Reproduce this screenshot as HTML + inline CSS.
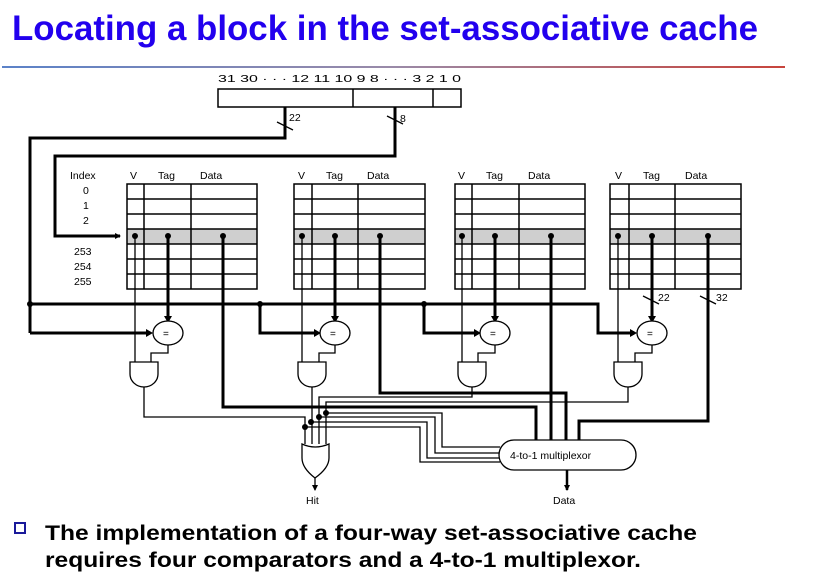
<!DOCTYPE html>
<html><head><meta charset="utf-8"><style>
body{margin:0;background:#fff;width:817px;height:578px;overflow:hidden;font-family:"Liberation Sans",sans-serif}
svg{font-family:"Liberation Sans",sans-serif}
</style></head><body>
<svg width="817" height="578" viewBox="0 0 817 578" xmlns="http://www.w3.org/2000/svg">
<defs>
<linearGradient id="g" x1="0" x2="1"><stop offset="0" stop-color="#5b82c8"/><stop offset="0.5" stop-color="#9a8aa8"/><stop offset="1" stop-color="#c8443c"/></linearGradient>
<marker id="a" markerWidth="6" markerHeight="6" refX="5" refY="3" orient="auto" markerUnits="userSpaceOnUse"><path d="M0,0 L6,3 L0,6z" fill="#000"/></marker>
</defs>
<text x="12" y="40" font-size="35" font-weight="bold" fill="#2200ee" textLength="746" lengthAdjust="spacingAndGlyphs">Locating a block in the set-associative cache</text>
<rect x="2" y="66" width="783" height="2" fill="url(#g)"/>

<g font-size="10.5" fill="#000">
<text x="218" y="82" textLength="243" lengthAdjust="spacingAndGlyphs">31 30 · · · 12 11 10 9 8 · · · 3 2 1 0</text>
<text x="70" y="179">Index</text>
<text x="83" y="194">0</text><text x="83" y="209">1</text><text x="83" y="224">2</text>
<text x="74" y="255">253</text><text x="74" y="270">254</text><text x="74" y="285">255</text>
<text x="130" y="179">V</text><text x="158" y="179">Tag</text><text x="200" y="179">Data</text>
<text x="298" y="179">V</text><text x="326" y="179">Tag</text><text x="367" y="179">Data</text>
<text x="458" y="179">V</text><text x="486" y="179">Tag</text><text x="528" y="179">Data</text>
<text x="615" y="179">V</text><text x="643" y="179">Tag</text><text x="685" y="179">Data</text>
<text x="289" y="121">22</text><text x="400" y="122">8</text>
<text x="658" y="301">22</text><text x="716" y="301">32</text>
<text x="306" y="504">Hit</text><text x="553" y="504">Data</text>
</g>

<g fill="none" stroke="#000" stroke-width="1.5">
<rect x="218" y="89" width="243" height="18"/><line x1="353" y1="89" x2="353" y2="107"/><line x1="433" y1="89" x2="433" y2="107"/>
</g>

<g stroke="#000" stroke-width="1.5" fill="none">
<rect x="127" y="229" width="130" height="15" fill="#cfcfcf" stroke="none"/>
<rect x="294" y="229" width="131" height="15" fill="#cfcfcf" stroke="none"/>
<rect x="455" y="229" width="130" height="15" fill="#cfcfcf" stroke="none"/>
<rect x="610" y="229" width="131" height="15" fill="#cfcfcf" stroke="none"/>
<path d="M127,184h130v105h-130z M144,184v105 M191,184v105 M127,199h130 M127,214h130 M127,229h130 M127,244h130 M127,259h130 M127,274h130"/>
<path d="M294,184h131v105h-131z M312,184v105 M358,184v105 M294,199h131 M294,214h131 M294,229h131 M294,244h131 M294,259h131 M294,274h131"/>
<path d="M455,184h130v105h-130z M472,184v105 M519,184v105 M455,199h130 M455,214h130 M455,229h130 M455,244h130 M455,259h130 M455,274h130"/>
<path d="M610,184h131v105h-131z M629,184v105 M675,184v105 M610,199h131 M610,214h131 M610,229h131 M610,244h131 M610,259h131 M610,274h131"/>
</g>

<g stroke="#000" stroke-width="3" fill="none">
<path d="M285,107V138H30V333"/>
<path d="M395,107V156H55V236H120" marker-end="url(#a)"/>
<path d="M30,304H598V333H630" />
<path d="M30,333H146"/>
<path d="M260,304V333H314"/>
<path d="M424,304V333H474"/>
<path d="M168,236V316"/><path d="M335,236V316"/><path d="M495,236V316"/><path d="M652,236V316"/>
<path d="M223,236V407H536V440"/>
<path d="M380,236V393H566V440"/>
<path d="M551,236V440"/>
<path d="M708,236V421H579V440"/>
</g>
<g fill="#000">
<path d="M146,329l7,4l-7,4z"/><path d="M314,329l7,4l-7,4z"/><path d="M474,329l7,4l-7,4z"/><path d="M630,329l7,4l-7,4z"/>
<path d="M164,316l4,7l4,-7z"/><path d="M331,316l4,7l4,-7z"/><path d="M491,316l4,7l4,-7z"/><path d="M648,316l4,7l4,-7z"/>
<circle cx="30" cy="304" r="3"/><circle cx="260" cy="304" r="3"/><circle cx="424" cy="304" r="3"/>
<circle cx="135" cy="236" r="3"/><circle cx="168" cy="236" r="3"/><circle cx="223" cy="236" r="3"/>
<circle cx="302" cy="236" r="3"/><circle cx="335" cy="236" r="3"/><circle cx="380" cy="236" r="3"/>
<circle cx="462" cy="236" r="3"/><circle cx="495" cy="236" r="3"/><circle cx="551" cy="236" r="3"/>
<circle cx="618" cy="236" r="3"/><circle cx="652" cy="236" r="3"/><circle cx="708" cy="236" r="3"/>
<circle cx="305" cy="427" r="3"/><circle cx="311" cy="422" r="3"/><circle cx="319" cy="417" r="3"/><circle cx="326" cy="413" r="3"/>
</g>

<g stroke="#000" stroke-width="1.3" fill="none">
<path d="M277,122l16,8"/><path d="M387,116l16,8"/><path d="M643,296l16,8"/><path d="M700,296l16,8"/>
<ellipse cx="168" cy="333" rx="15" ry="12" fill="#fff"/>
<ellipse cx="335" cy="333" rx="15" ry="12" fill="#fff"/>
<ellipse cx="495" cy="333" rx="15" ry="12" fill="#fff"/>
<ellipse cx="652" cy="333" rx="15" ry="12" fill="#fff"/>
<path d="M135,236V362 M168,345V353H151V362"/>
<path d="M302,236V362 M335,345V353H319V362"/>
<path d="M462,236V362 M495,345V353H478V362"/>
<path d="M618,236V362 M652,345V353H635V362"/>
<path d="M130,362h28v12a14,13 0 0 1 -28,0z" fill="#fff"/>
<path d="M298,362h28v12a14,13 0 0 1 -28,0z" fill="#fff"/>
<path d="M458,362h28v12a14,13 0 0 1 -28,0z" fill="#fff"/>
<path d="M614,362h28v12a14,13 0 0 1 -28,0z" fill="#fff"/>
<path d="M144,387V417H305V444"/>
<path d="M312,387V444"/>
<path d="M472,387V397H319V444"/>
<path d="M628,387V402H326V444"/>
<path d="M305,427H420V462H500"/>
<path d="M311,422H427V458H500"/>
<path d="M319,417H435V453H500"/>
<path d="M326,413H442V447H500"/>
<path d="M302,444Q315,450 329,444V458Q329,468 315,478Q302,468 302,458z" fill="#fff"/>
<path d="M315,478V490" marker-end="url(#a)"/>
<path d="M567,470V490" stroke-width="2.5" marker-end="url(#a)"/>
<rect x="499" y="440" width="137" height="30" rx="15" fill="#fff"/>
</g>
<text x="510" y="459" font-size="10.5">4-to-1 multiplexor</text>
<g font-size="10" fill="#000">
<text x="163" y="337">=</text><text x="330" y="337">=</text><text x="490" y="337">=</text><text x="647" y="337">=</text>
</g>

<rect x="15" y="523" width="10" height="10" fill="none" stroke="#1a1a9a" stroke-width="2"/>
<g font-size="21" font-weight="bold" fill="#000">
<text x="45" y="540" textLength="652" lengthAdjust="spacingAndGlyphs">The implementation of a four-way set-associative cache</text>
<text x="45" y="567" textLength="596" lengthAdjust="spacingAndGlyphs">requires four comparators and a 4-to-1 multiplexor.</text>
</g>
</svg>
</body></html>
